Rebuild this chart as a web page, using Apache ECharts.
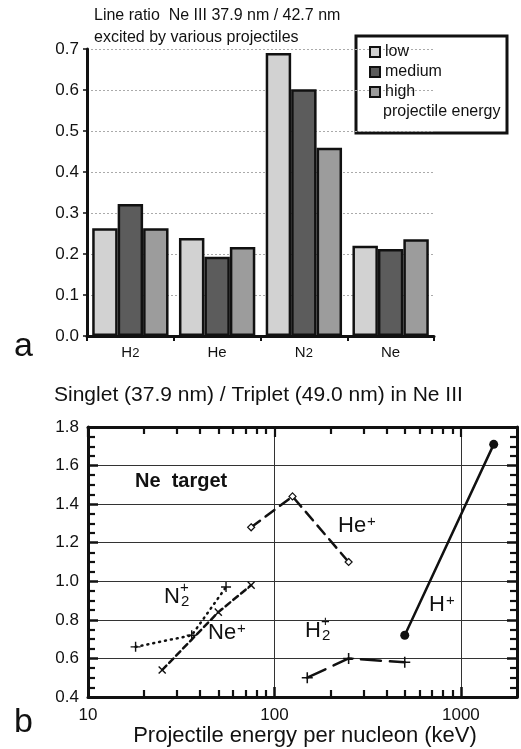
<!DOCTYPE html>
<html>
<head>
<meta charset="utf-8">
<script src="https://cdn.jsdelivr.net/npm/echarts@6/dist/echarts.min.js"></script>
<style>
  html, body { margin: 0; padding: 0; background: #fff; }
  #chart { width: 521px; height: 749px; }
</style>
</head>
<body>
<div id="chart"></div>
<script>
// panel a: Ne III 37.9/42.7 ratio by projectile
const targets = ['H2', 'He', 'N2', 'Ne'];
const lowEnergy = [0.263, 0.239, 0.69, 0.22];
const mediumEnergy = [0.322, 0.193, 0.602, 0.212];
const highEnergy = [0.263, 0.217, 0.459, 0.236];

// panel b: singlet / triplet vs energy per nucleon (keV)
const hPlus = [[500, 0.72], [1500, 1.71]];
const hePlus = [[75, 1.28], [125, 1.44], [250, 1.10]];
const n2Plus = [[18, 0.66], [36, 0.72], [55, 0.97]];
const nePlus = [[25, 0.54], [50, 0.84], [75, 0.98]];
const h2Plus = [[150, 0.50], [250, 0.60], [500, 0.58]];
const majorX = [10, 100, 1000];
const minorX = [20, 30, 40, 50, 60, 70, 80, 90, 200, 300, 400, 500, 600, 700, 800, 900];

const FONT = '"Liberation Sans", Arial, sans-serif';
const chart = echarts.init(document.getElementById('chart'));

// 细加号
const plusPath = 'path://M4.3,0h1.4v4.3h4.3v1.4h-4.3v4.3h-1.4v-4.3h-4.3v-1.4h4.3z';

function barSeries(name, data, color) {
  return {
    name: name, type: 'bar', xAxisIndex: 0, yAxisIndex: 0,
    data: data, barGap: 0, barCategoryGap: '12%',
    itemStyle: { color: color, borderColor: '#111', borderWidth: 2.5 }
  };
}

function lineSeries(data, dash, symbol, symbolSize, rotate, fill) {
  return {
    type: 'line', xAxisIndex: 1, yAxisIndex: 1, data: data,
    symbol: symbol, symbolSize: symbolSize, symbolRotate: rotate,
    showAllSymbol: true,
    lineStyle: { color: '#111', width: 2.5, type: dash, cap: 'round' },
    itemStyle: { color: fill, borderColor: '#111', borderWidth: symbol === 'diamond' ? 1.2 : 0 },
    z: 5
  };
}

const label = (x, y, rich) => ({
  type: 'text', left: x, top: y,
  style: {
    text: rich, fill: '#111', font: '22px ' + FONT,
    rich: {
      b: { fontSize: 22, fontFamily: FONT, fill: '#111' },
      sup: { fontSize: 15, fontFamily: FONT, verticalAlign: 'top', fill: '#111', padding: [0, 0, 9, 1] },
      sub: { fontSize: 15, fontFamily: FONT, verticalAlign: 'bottom', fill: '#111', padding: [9, 0, 0, 1] }
    }
  }
});

const TICK = '#111';

// 对数轴的刻度（主/次，上/下）
function logTickAxis(position, values, length, withLine) {
  return {
    type: 'log', gridIndex: 1, min: 10, max: 2000, logBase: 10, position: position,
    axisLine: { show: withLine, lineStyle: { color: '#111', width: 3 } },
    axisTick: { show: true, inside: true, length: length, customValues: values, lineStyle: { color: TICK, width: 2.2 } },
    axisLabel: { show: false }, splitLine: { show: false }
  };
}

const option = {
  animation: false,
  backgroundColor: '#fff',
  textStyle: { fontFamily: FONT, color: '#111' },
  grid: [
    { left: 87, top: 49, width: 347, height: 287, outerBoundsMode: 'none', containLabel: false },
    { left: 88, top: 427, width: 429, height: 270, outerBoundsMode: 'none', containLabel: false }
  ],
  legend: {
    data: ['low', 'medium', 'high'],
    orient: 'vertical', left: 364, top: 39,
    icon: 'rect',
    itemWidth: 10, itemHeight: 10, itemGap: 4,
    textStyle: { fontSize: 16, fontFamily: FONT, color: '#111' }
  },
  xAxis: [
    {
      type: 'category', gridIndex: 0, data: targets,
      axisLine: { lineStyle: { color: '#111', width: 3 } },
      axisTick: { show: true, length: 5, lineStyle: { color: TICK, width: 2 } },
      axisLabel: {
        margin: 9,
        formatter: v => v.replace(/^([A-Z][a-z]?)(\d)$/, '{m|$1}{s|$2}').replace(/^([A-Z][a-z]?)$/, '{m|$1}'),
        rich: {
          m: { fontSize: 15, fontFamily: FONT, color: '#111' },
          s: { fontSize: 13, fontFamily: FONT, color: '#111', verticalAlign: 'bottom', padding: [2, 0, 0, 0] }
        }
      }
    },
    {
      type: 'log', gridIndex: 1, min: 10, max: 2000, logBase: 10, position: 'bottom',
      name: 'Projectile energy per nucleon (keV)', nameLocation: 'middle', nameGap: 27,
      nameTextStyle: { fontSize: 22, fontFamily: FONT, color: '#111', padding: [0, 0, 0, 5] },
      axisLine: { lineStyle: { color: '#111', width: 3 } },
      axisTick: { show: true, inside: true, length: 10, customValues: majorX, lineStyle: { color: TICK, width: 2.5 } },
      axisLabel: { customValues: majorX, fontSize: 17, color: '#111', margin: 10, formatter: v => String(v) },
      splitLine: { show: true, lineStyle: { color: '#333', width: 1 } }
    },
    logTickAxis('bottom', minorX, 7, false),
    logTickAxis('top', majorX, 10, true),
    logTickAxis('top', minorX, 7, false)
  ],
  yAxis: [
    {
      type: 'value', gridIndex: 0, min: 0, max: 0.7, interval: 0.1,
      axisLine: { show: true, lineStyle: { color: '#111', width: 3 } },
      axisTick: { show: true, length: 4, lineStyle: { color: TICK, width: 1.5 } },
      axisLabel: { fontSize: 17, color: '#111', margin: 8, formatter: v => v.toFixed(1) },
      splitLine: { show: true, lineStyle: { color: '#aaa', width: 1, type: [2, 2] } }
    },
    {
      type: 'value', gridIndex: 1, min: 0.4, max: 1.8, interval: 0.2, position: 'left',
      axisLine: { show: true, lineStyle: { color: '#111', width: 3 } },
      axisTick: { show: true, inside: true, length: 10, lineStyle: { color: TICK, width: 2.5 } },
      minorTick: { show: true, splitNumber: 4, length: 7, lineStyle: { color: TICK, width: 2.2 } },
      axisLabel: { fontSize: 17, color: '#111', margin: 9, formatter: v => v.toFixed(1) },
      splitLine: { show: true, lineStyle: { color: '#333', width: 1 } }
    },
    {
      type: 'value', gridIndex: 1, min: 0.4, max: 1.8, interval: 0.2, position: 'right',
      axisLine: { show: true, lineStyle: { color: '#111', width: 3 } },
      axisTick: { show: true, inside: true, length: 10, lineStyle: { color: TICK, width: 2.5 } },
      minorTick: { show: true, splitNumber: 4, length: 7, lineStyle: { color: TICK, width: 2.2 } },
      axisLabel: { show: false }, splitLine: { show: false }
    }
  ],
  series: [
    barSeries('low', lowEnergy, '#d2d2d2'),
    barSeries('medium', mediumEnergy, '#5c5c5c'),
    barSeries('high', highEnergy, '#9c9c9c'),
    lineSeries(hPlus, 'solid', 'circle', 9, 0, '#111'),
    lineSeries(hePlus, [11, 7], 'diamond', 7, 0, '#fff'),
    lineSeries(n2Plus, [1, 5], plusPath, 10, 0, '#111'),
    lineSeries(nePlus, [6, 4], plusPath, 10, 45, '#111'),
    lineSeries(h2Plus, [20, 9], plusPath, 11, 0, '#111')
  ],
  graphic: [
    { type: 'rect', shape: { x: 356, y: 36, width: 151, height: 97 },
      style: { fill: 'none', stroke: '#111', lineWidth: 3 } },
    { type: 'text', left: 383, top: 104,
      style: { text: 'projectile energy', font: '16px ' + FONT, fill: '#111' } },
    { type: 'text', left: 94, top: 5,
      style: { text: 'Line ratio  Ne III 37.9 nm / 42.7 nm\nexcited by various projectiles',
        font: '16px ' + FONT, lineHeight: 22, fill: '#111' } },
    { type: 'text', left: 14, top: 330, style: { text: 'a', font: '34px ' + FONT, fill: '#111' } },
    { type: 'text', left: 14, top: 706, style: { text: 'b', font: '34px ' + FONT, fill: '#111' } },
    { type: 'text', left: 54, top: 385,
      style: { text: 'Singlet (37.9 nm) / Triplet (49.0 nm) in Ne III', font: '21px ' + FONT, fill: '#111' } },
    { type: 'text', left: 135, top: 471,
      style: { text: 'Ne  target', font: 'bold 20px ' + FONT, fill: '#111' } },
    label(338, 514, '{b|He}{sup|+}'),
    label(429, 593, '{b|H}{sup|+}'),
    label(164, 586, '{b|N}{sub|2}'),
    label(180, 580, '{sup|+}'),
    label(208, 621, '{b|Ne}{sup|+}'),
    label(305, 620, '{b|H}{sub|2}'),
    label(321, 614, '{sup|+}')
  ]
};

chart.setOption(option);
</script>
</body>
</html>
